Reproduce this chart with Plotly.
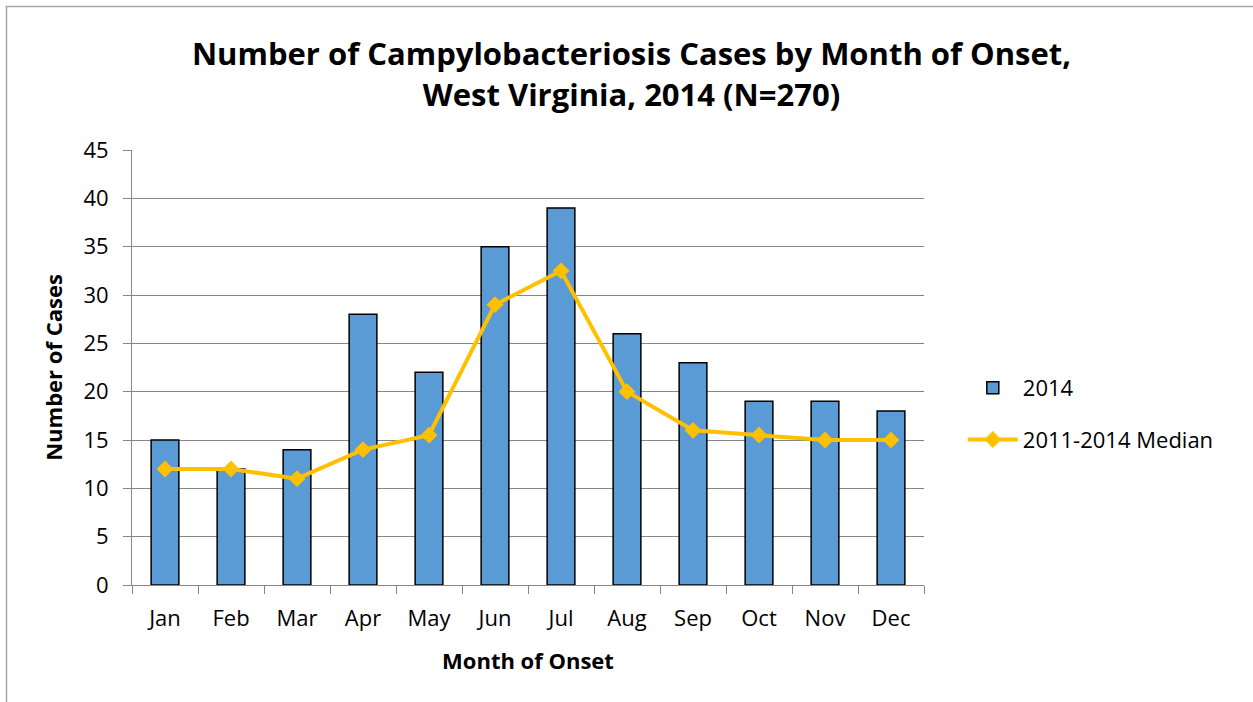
import plotly.graph_objects as go

months = ["Jan", "Feb", "Mar", "Apr", "May", "Jun", "Jul", "Aug", "Sep", "Oct", "Nov", "Dec"]
cases_2014 = [15, 12, 14, 28, 22, 35, 39, 26, 23, 19, 19, 18]
median_2011_2014 = [12, 12, 11, 14, 15.5, 29, 32.5, 20, 16, 15.5, 15, 15]
y_ticks = [0, 5, 10, 15, 20, 25, 30, 35, 40, 45]

FONT = "Open Sans"

fig = go.Figure()
fig.add_trace(go.Bar(
    x=months, y=cases_2014, name="2014", legendgroup="a",
    marker=dict(color="#5B9BD5", line=dict(color="black", width=1.5)),
    width=0.42,
))
fig.add_trace(go.Scatter(
    x=months, y=median_2011_2014, name="2011-2014 Median", legendgroup="b",
    mode="lines+markers",
    line=dict(color="#FFC000", width=4),
    marker=dict(symbol="diamond", size=13, color="#FFC000"),
))

fig.update_layout(
    width=1253, height=702,
    paper_bgcolor="white", plot_bgcolor="white",
    margin=dict(l=132, r=329, t=150, b=117),
    title=dict(
        text="Number of Campylobacteriosis Cases by Month of Onset,<br>West Virginia, 2014 (N=270)",
        x=0.504, xanchor="center", y=0.907, yanchor="middle",
        font=dict(family=FONT, size=31, color="black", weight="bold"),
    ),
    font=dict(family=FONT, color="black"),
    showlegend=True,
    legend=dict(
        x=1.049, y=0.393, xanchor="left", yanchor="middle",
        font=dict(family=FONT, size=22, color="black"),
        tracegroupgap=20, itemwidth=50,
    ),
)
fig.update_xaxes(
    range=[-0.5, len(months) - 0.5],
    showline=True, linecolor="#868686", linewidth=1,
    ticks="outside", ticklen=8, tickcolor="#868686", tickson="boundaries",
    ticklabelstandoff=14,
    tickfont=dict(family=FONT, size=22, color="black"),
    title=dict(text="<b>Month of Onset</b>", font=dict(family=FONT, size=22, color="black"), standoff=22),
    showgrid=False,
)
fig.update_yaxes(
    range=[0, 45], tickvals=y_ticks,
    showline=True, linecolor="#868686", linewidth=1,
    ticks="outside", ticklen=8, tickcolor="#868686",
    ticklabelstandoff=10,
    showgrid=True, gridcolor="#868686", gridwidth=1,
    tickfont=dict(family=FONT, size=22, color="black"),
    title=dict(text="<b>Number of Cases</b>", font=dict(family=FONT, size=22, color="black"), standoff=14),
    zeroline=False,
)
fig.add_shape(type="rect", xref="paper", yref="paper",
              x0=(6.5 - 132) / 792, x1=(1270 - 132) / 792,
              y0=(585 - 720) / 435, y1=(585 - 6.5) / 435,
              line=dict(color="#A6A6A6", width=1.5), fillcolor="rgba(0,0,0,0)", layer="below")

fig.write_html("out.html", config={"displayModeBar": False},
               post_script="document.body.style.margin='0';document.body.style.overflow='hidden';")
